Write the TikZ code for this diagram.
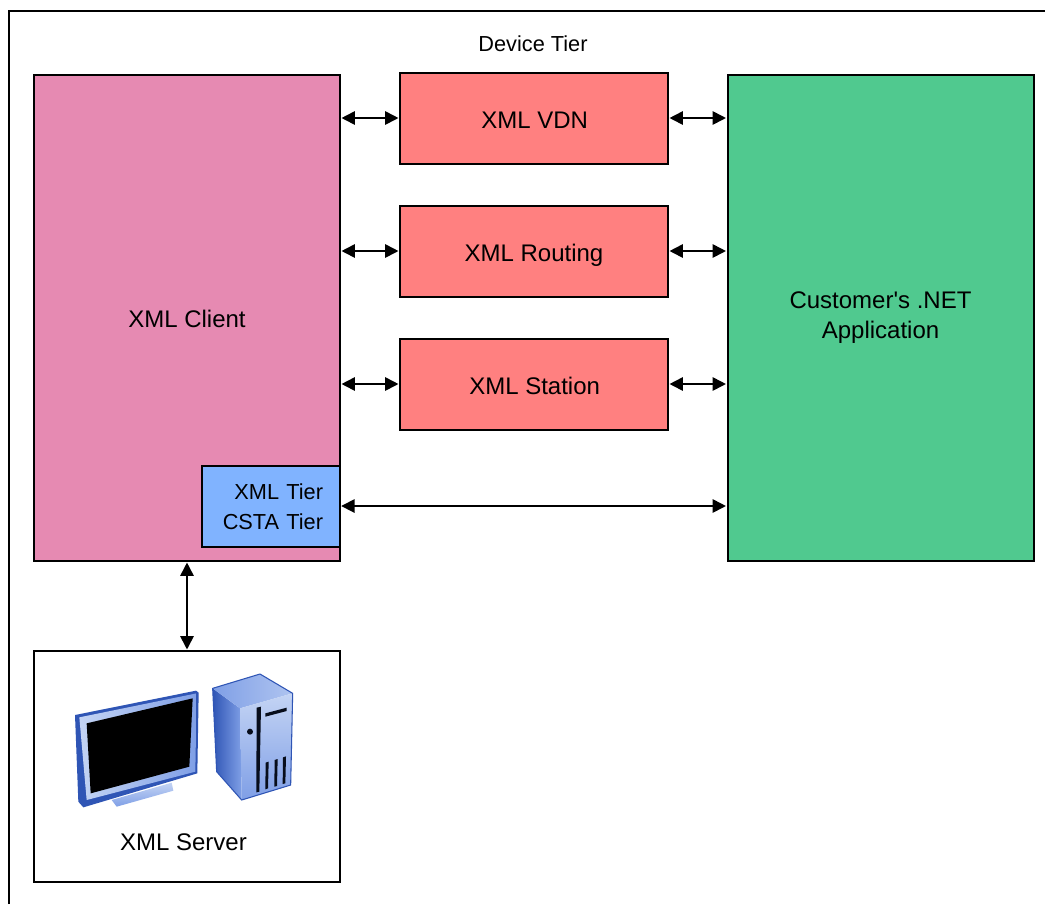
\documentclass[tikz,border=0pt]{standalone}
\usepackage{fontspec}
\setmainfont{Liberation Sans}
\newfontfamily\straightfont{Liberation Sans}
\usetikzlibrary{arrows.meta}
\definecolor{clientpink}{HTML}{E68AB2}
\definecolor{tiersalmon}{HTML}{FF8080}
\definecolor{appgreen}{HTML}{50C98F}
\definecolor{tierblue}{HTML}{80B3FF}
\definecolor{iconlight}{HTML}{C4D4F4}
\definecolor{iconmid}{HTML}{7F9FE6}
\definecolor{icondark}{HTML}{2F55B5}
\tikzset{
  x=0.75pt, y=-0.75pt,
  boxbase/.style={draw=black, line width=1.5pt, inner sep=0pt, align=center, text=black},
  bigbox/.style={boxbase, minimum width=229.5pt, minimum height=364.5pt},
  midbox/.style={boxbase, fill=tiersalmon, minimum width=201pt, minimum height=68.25pt, text height=17.5pt, text depth=2.5pt, font=\fontsize{18}{22}\selectfont},
  link/.style={draw=black, line width=1.3pt, {Triangle[length=10pt,width=10pt]}-{Triangle[length=10pt,width=10pt]}, shorten <=0.4pt, shorten >=0.4pt},
}
\begin{document}
\begin{tikzpicture}
\useasboundingbox (0,0) rectangle (1045,904);
\fill[white] (0,0) rectangle (1045,904);
\draw[black, line width=1.5pt] (9,904) -- (9,11) -- (1045,11);
\node[font=\fontsize{16.3}{20}\selectfont] (title) at (533,43.5) {Device Tier};
\node[bigbox, fill=clientpink] (client) at (187,318) {};
\node[font=\fontsize{18}{22}\selectfont] (clientlabel) at (187,318.5) {XML Client};
\node[bigbox, fill=appgreen] (app) at (880.5,318) {};
\node[font=\fontsize{18}{22.5}\selectfont, align=center] (applabel) at (880.5,318) {Customer{\straightfont'}s .NET\\Application};
\node[midbox] (vdn) at (534,118) {\hspace{1pt}XML VDN};
\node[midbox] (routing) at (534,251) {XML Routing};
\node[midbox] (station) at (534,384) {\hspace{1pt}XML Station};
\node[boxbase, fill=tierblue, minimum width=103pt, minimum height=60.75pt] (tier) at (271,506) {};
\node[font=\fontsize{16.3}{22.5}\selectfont, align=right, text width=78pt, inner sep=0pt] (tierlabel) at (271,507) {XML Tier\\CSTA Tier};
\node[boxbase, fill=white, minimum width=229.5pt, minimum height=173.25pt] (server) at (187,766.5) {};
\node[font=\fontsize{18}{22}\selectfont] (serverlabel) at (183.5,842) {XML Server};
\draw[link] (client.east |- vdn.west) -- (vdn.west);
\draw[link] (vdn.east) -- (app.west |- vdn.east);
\draw[link] (client.east |- routing.west) -- (routing.west);
\draw[link] (routing.east) -- (app.west |- routing.east);
\draw[link] (client.east |- station.west) -- (station.west);
\draw[link] (station.east) -- (app.west |- station.east);
\draw[link] (tier.east) -- (app.west |- tier.east);
\draw[link] (client.south) -- (server.north);
\begin{scope}[shift={(60,660)}, x=0.25pt, y=-0.25pt, line join=round]
  % monitor stand
  \shade[top color=iconlight, bottom color=iconmid] (155,420) -- (335,368) -- (340,392) -- (170,440) -- cycle;
  % monitor body
  \fill[icondark] (45,165) -- (408,92) -- (416,98) -- (412,340) -- (70,442) -- (55,425) -- cycle;
  \shade[left color=iconlight, right color=iconmid] (58,172) -- (410,100) -- (406,335) -- (80,420) -- cycle;
  \fill[black] (80,190) -- (398,115) -- (388,320) -- (92,400) -- cycle;
  % tower
  \shade[left color=icondark, right color=iconmid] (458,85) -- (540,145) -- (545,420) -- (470,335) -- cycle;
  \shade[left color=iconmid, right color=iconlight!70!iconmid] (458,85) -- (600,42) -- (698,100) -- (540,145) -- cycle;
  \shade[top color=iconlight, bottom color=iconmid] (540,145) -- (698,100) -- (692,375) -- (545,420) -- cycle;
  \draw[icondark, line width=0.8pt] (458,85) -- (600,42) -- (698,100) -- (692,375) -- (545,420) -- (470,335) -- cycle;
  \fill[black!85!icondark] (590,143) -- (603,140) -- (598,395) -- (589,397) -- cycle;
  \fill[black!85!icondark] (616,160) -- (680,143) -- (680,153) -- (616,170) -- cycle;
  \fill[black!85!icondark] (570,215) circle[radius=9];
  \fill[black!85!icondark] (617,308) -- (626,305) -- (624,385) -- (616,388) -- cycle;
  \fill[black!85!icondark] (644,300) -- (653,297) -- (651,378) -- (643,380) -- cycle;
  \fill[black!85!icondark] (669,292) -- (678,289) -- (676,370) -- (668,372) -- cycle;
\end{scope}
\end{tikzpicture}
\end{document}
